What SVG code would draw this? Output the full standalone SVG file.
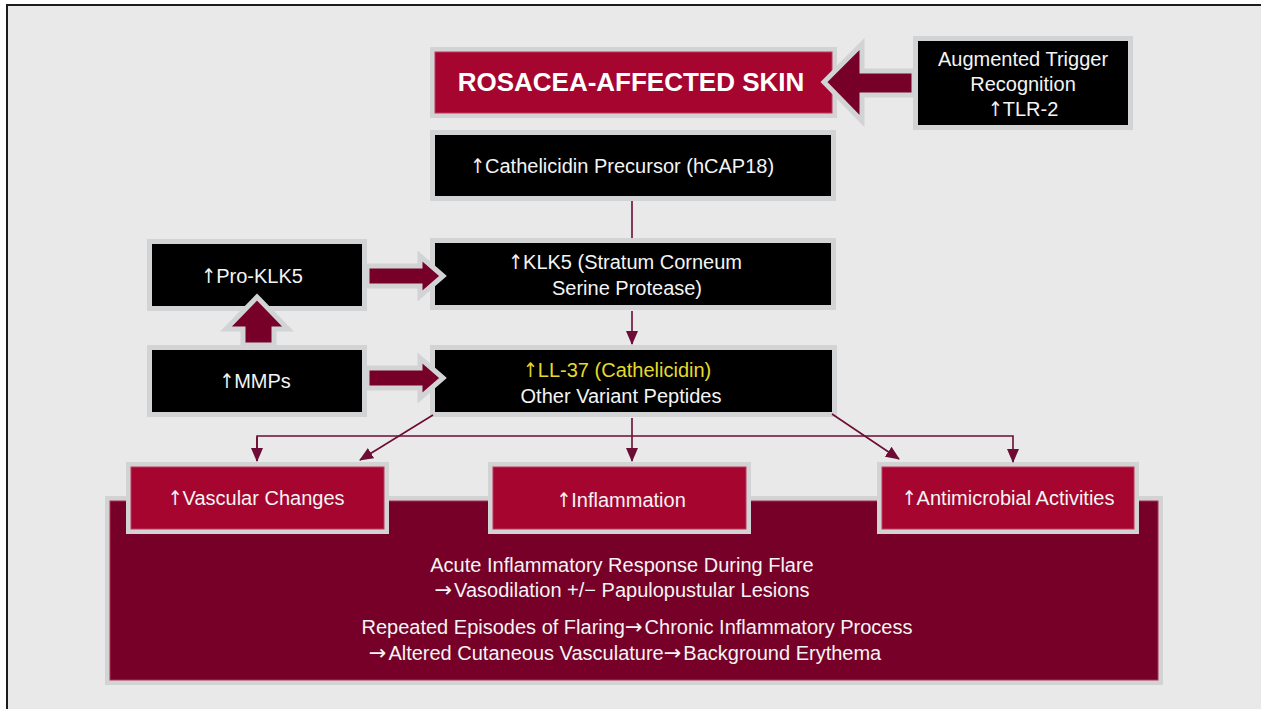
<svg xmlns="http://www.w3.org/2000/svg" width="1261" height="709" viewBox="0 0 1261 709">
<defs>
<style>
.t{font-family:"Liberation Sans",Arial,sans-serif;font-size:20px;fill:#f4f4f4;text-anchor:middle}
.title{font-family:"Liberation Sans",Arial,sans-serif;font-size:26px;font-weight:bold;fill:#ffffff;text-anchor:middle}
.a{font-family:"DejaVu Sans Condensed","DejaVu Sans",sans-serif}
.r{font-family:"DejaVu Sans",sans-serif;font-size:21px}
.y{fill:#e6da2c}
.frame{fill:#d1d3d4}
.blk{fill:#000000}
.red{fill:#a6052f;stroke:#c0385a;stroke-width:1}
.maroon{fill:#760027;stroke:#b0304f;stroke-width:1}
.barrow{fill:#760027;stroke:#d1d3d4;stroke-width:5;stroke-linejoin:miter;stroke-miterlimit:10}
.ln{fill:none;stroke:#6d0c34;stroke-width:1.6}
</style>
<marker id="ah" markerUnits="userSpaceOnUse" markerWidth="14" markerHeight="12" refX="13" refY="6" orient="auto">
<path d="M0,0 L14,6 L0,12 z" fill="#6d0c34"/>
</marker>
</defs>
<rect x="0" y="0" width="1261" height="709" fill="#ffffff"/>
<rect x="7" y="5" width="1300" height="800" fill="#e9e9e9" stroke="#1c1c1c" stroke-width="2"/>

<g id="bottom-box">
<rect class="frame" x="105" y="496" width="1058" height="189"/>
<rect class="maroon" x="110" y="501" width="1048" height="179"/>
<text class="t" x="622" y="572">Acute Inflammatory Response During Flare</text>
<text class="t" x="622" y="597"><tspan class="r">→</tspan><tspan dx="2">Vasodilation +/− Papulopustular Lesions</tspan></text>
<text class="t" x="637" y="634">Repeated Episodes of Flaring<tspan class="r">→</tspan><tspan dx="2">Chronic Inflammatory Process</tspan></text>
<text class="t" x="625" y="660"><tspan class="r">→</tspan><tspan dx="2">Altered Cutaneous Vasculature</tspan><tspan class="r">→</tspan><tspan dx="2">Background Erythema</tspan></text>
</g>

<g id="rosacea">
<rect class="frame" x="430" y="47" width="407" height="71"/>
<rect class="red" x="435" y="52" width="397" height="61"/>
<text class="title" x="631" y="91">ROSACEA-AFFECTED SKIN</text>
</g>

<g id="trigger">
<rect class="frame" x="913" y="36" width="220" height="94"/>
<rect class="blk" x="918" y="41" width="210" height="84"/>
<text class="t" x="1023" y="66">Augmented Trigger</text>
<text class="t" x="1023" y="91">Recognition</text>
<text class="t" x="1023" y="116"><tspan class="a">↑</tspan>TLR-2</text>
</g>

<g id="precursor">
<rect class="frame" x="430" y="130" width="406" height="71"/>
<rect class="blk" x="435" y="135" width="396" height="61"/>
<text class="t" x="622" y="173"><tspan class="a">↑</tspan>Cathelicidin Precursor (hCAP18)</text>
</g>

<g id="klk5">
<rect class="frame" x="430" y="238" width="406" height="72"/>
<rect class="blk" x="435" y="243" width="396" height="62"/>
<text class="t" x="625" y="269"><tspan class="a">↑</tspan>KLK5 (Stratum Corneum</text>
<text class="t" x="627" y="295">Serine Protease)</text>
</g>

<g id="ll37">
<rect class="frame" x="430" y="345" width="407" height="72"/>
<rect class="blk" x="435" y="350" width="397" height="62"/>
<text class="t y" x="617" y="377"><tspan class="a">↑</tspan>LL-37 (Cathelicidin)</text>
<text class="t" x="621" y="403">Other Variant Peptides</text>
</g>

<g id="pro-klk5">
<rect class="frame" x="147" y="239" width="220" height="72"/>
<rect class="blk" x="152" y="244" width="210" height="62"/>
<text class="t" x="252" y="283"><tspan class="a">↑</tspan>Pro-KLK5</text>
</g>

<g id="mmps">
<rect class="frame" x="147" y="345" width="220" height="72"/>
<rect class="blk" x="152" y="350" width="210" height="62"/>
<text class="t" x="255" y="388"><tspan class="a">↑</tspan>MMPs</text>
</g>

<g id="vascular">
<rect class="frame" x="126" y="462" width="263" height="72"/>
<rect class="red" x="131" y="467" width="253" height="62"/>
<text class="t" x="256" y="505"><tspan class="a">↑</tspan>Vascular Changes</text>
</g>

<g id="inflammation">
<rect class="frame" x="488" y="462" width="263" height="72"/>
<rect class="red" x="493" y="467" width="253" height="62"/>
<text class="t" x="621" y="507"><tspan class="a">↑</tspan>Inflammation</text>
</g>

<g id="antimicrobial">
<rect class="frame" x="877" y="462" width="262" height="72"/>
<rect class="red" x="882" y="467" width="252" height="62"/>
<text class="t" x="1008" y="505"><tspan class="a">↑</tspan>Antimicrobial Activities</text>
</g>

<g id="connectors">
<polygon class="barrow" points="824,82 862,44 862,71 914,71 914,95 862,95 862,121"/>
<polygon class="barrow" points="443,276 420,256 420,266 367,266 367,286 420,286 420,296"/>
<polygon class="barrow" points="443,378 420,358 420,368 367,368 367,388 420,388 420,398"/>
<polygon class="barrow" points="257,297 288,329 274,329 274,345 243,345 243,329 226,329"/>
<line class="ln" x1="632" y1="201" x2="632" y2="238"/>
<line class="ln" x1="632" y1="311" x2="632" y2="344" marker-end="url(#ah)"/>
<line class="ln" x1="632" y1="418" x2="632" y2="461" marker-end="url(#ah)"/>
<polyline class="ln" points="257,461 257,436 1013,436 1013,462" marker-end="url(#ah)"/>
<line class="ln" x1="257" y1="437" x2="257" y2="461" marker-end="url(#ah)"/>
<line class="ln" x1="433" y1="415" x2="360" y2="460" marker-end="url(#ah)"/>
<line class="ln" x1="832" y1="414" x2="899" y2="459" marker-end="url(#ah)"/>
</g>
</svg>
